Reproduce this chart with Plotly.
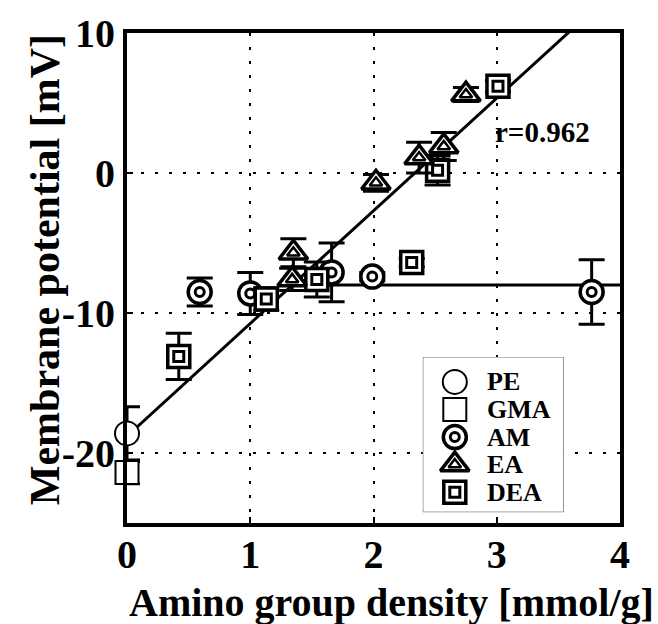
import plotly.graph_objects as go

# ---------------- data ----------------
pe_x = [0.0]
pe_y = [-18.6]
pe_err = [1.9]

gma_x = [0.0]
gma_y = [-21.4]
gma_err = [0.8]

am_x = [0.59, 1.0, 1.66, 1.99, 3.77]
am_y = [-8.5, -8.6, -7.1, -7.4, -8.5]
am_err = [1.0, 1.5, 2.1, 0.3, 2.3]

ea_x = [1.35, 1.34, 2.02, 2.37, 2.57, 2.75]
ea_y = [-5.7, -7.6, -0.7, 1.1, 1.9, 5.6]
ea_err = [1.0, 0.8, 0.6, 1.1, 1.0, 0.5]

dea_x = [0.42, 1.13, 1.54, 2.31, 2.52, 3.01]
dea_y = [-13.1, -9.0, -7.6, -6.4, 0.2, 6.2]
dea_err = [1.65, 0.8, 1.25, 0.3, 1.05, 0.4]

# fitted lines
fit_intercept = -18.8
fit_slope = 8.05
plateau_y = -8.0
x_max = 4.0

x_ticks = [0, 1, 2, 3, 4]
x_tick_labels = ["0", "1", "2", "3", "4"]
y_ticks = [-20, -10, 0, 10]
y_tick_labels = ["-20", "-10", "0", "10"]
r_label = "r=0.962"
legend_names = ["PE", "GMA", "AM", "EA", "DEA"]

FONT = "Liberation Serif"

fig = go.Figure()

# regression line (clipped by the axes)
fit_x = [0.0, x_max]
fit_y = [fit_intercept + fit_slope * v for v in fit_x]
fig.add_trace(go.Scatter(x=fit_x, y=fit_y, mode="lines",
                         line=dict(color="black", width=3), showlegend=False, hoverinfo="skip"))
# plateau line
x_break = (plateau_y - fit_intercept) / fit_slope
fig.add_trace(go.Scatter(x=[x_break, x_max], y=[plateau_y, plateau_y], mode="lines",
                         line=dict(color="black", width=3), showlegend=False, hoverinfo="skip"))


def err(arr):
    return dict(type="data", array=arr, visible=True, color="black", thickness=3, width=13)


def outer(x, y, e, symbol, size=24, lw=3.5):
    fig.add_trace(go.Scatter(x=x, y=y, mode="markers", error_y=err(e), cliponaxis=False,
                             marker=dict(symbol=symbol, size=size, color="white",
                                         line=dict(color="black", width=lw)),
                             showlegend=False))


def inner(x, y, symbol, size, lw=3):
    fig.add_trace(go.Scatter(x=x, y=y, mode="markers", cliponaxis=False,
                             marker=dict(symbol=symbol, size=size, color="white",
                                         line=dict(color="black", width=lw)),
                             showlegend=False))


# GMA / PE
outer(gma_x, gma_y, gma_err, "square", 23, 2)
outer(pe_x, pe_y, pe_err, "circle", 24, 2)
# AM
outer(am_x, am_y, am_err, "circle", 23)
inner(am_x, am_y, "circle", 9)
# DEA
outer(dea_x, dea_y, dea_err, "square", 22)
inner(dea_x, dea_y, "square", 10)
# EA
outer(ea_x, ea_y, ea_err, "triangle-up", 25)
inner(ea_x, ea_y, "triangle-up", 11, 2.5)

# ---------------- manual legend on its own small subplot ----------------
leg_styles = [
    ("circle", 24, 2, None),
    ("square", 23, 2, None),
    ("circle", 23, 3.5, ("circle", 9, 3)),
    ("triangle-up", 25, 3.5, ("triangle-up", 11, 2.5)),
    ("square", 22, 3.5, ("square", 10, 3)),
]
n = len(legend_names)
row_y = [0.839 - 0.1775 * i for i in range(n)]
mk_x = 0.227
fig.add_trace(go.Scatter(x=[0, 1, 1, 0, 0], y=[0, 0, 1, 1, 0], mode="lines", fill="toself",
                         fillcolor="white", line=dict(color="#444", width=1),
                         xaxis="x2", yaxis="y2", showlegend=False, hoverinfo="skip"))
for i, (sym, sz, lw, inn) in enumerate(leg_styles):
    fig.add_trace(go.Scatter(x=[mk_x], y=[row_y[i]], mode="markers", xaxis="x2", yaxis="y2",
                             marker=dict(symbol=sym, size=sz, color="white",
                                         line=dict(color="black", width=lw)),
                             showlegend=False, hoverinfo="skip"))
    if inn:
        fig.add_trace(go.Scatter(x=[mk_x], y=[row_y[i]], mode="markers", xaxis="x2", yaxis="y2",
                                 marker=dict(symbol=inn[0], size=inn[1], color="white",
                                             line=dict(color="black", width=inn[2])),
                                 showlegend=False, hoverinfo="skip"))
    fig.add_annotation(x=0.44, y=row_y[i], xref="x2", yref="y2", text="<b>%s</b>" % legend_names[i],
                       showarrow=False, xanchor="left", yanchor="middle",
                       font=dict(family=FONT, size=26, color="black"))

# r label
fig.add_annotation(x=3.37, y=2.9, xref="x", yref="y", text="<b>%s</b>" % r_label, showarrow=False,
                   xanchor="center", yanchor="middle",
                   font=dict(family=FONT, size=29, color="black"))

# axis titles
fig.add_annotation(x=0.5375, y=-0.162, xref="paper", yref="paper",
                   text="<b>Amino group density [mmol/g]</b>", showarrow=False,
                   xanchor="center", yanchor="middle",
                   font=dict(family=FONT, size=40, color="black"))
fig.add_annotation(x=0, y=0.516, xref="paper", yref="paper", xshift=-82,
                   text="<b>Membrane potential [mV]</b>", showarrow=False, textangle=-90,
                   xanchor="center", yanchor="middle",
                   font=dict(family=FONT, size=42, color="black"))

axis_common = dict(showline=True, linecolor="black", linewidth=4, mirror=True,
                   showgrid=True, gridcolor="black", gridwidth=2, griddash="3px,11px",
                   zeroline=False, ticks="inside", ticklen=6, tickwidth=2, tickcolor="black",
                   tickfont=dict(family=FONT, size=40, color="black"))

fig.update_layout(
    width=658, height=624,
    margin=dict(l=127, r=38, t=33, b=101),
    paper_bgcolor="white", plot_bgcolor="white",
    showlegend=False,
    xaxis=dict(range=[0, 4], tickvals=x_ticks, ticktext=["<b>%s</b>" % t for t in x_tick_labels],
               domain=[0, 1], ticklabelstandoff=-7, **axis_common),
    yaxis=dict(range=[-25, 10], tickvals=y_ticks, ticktext=["<b>%s</b>" % t for t in y_tick_labels],
               domain=[0, 1], **axis_common),
    xaxis2=dict(domain=[0.600, 0.886], range=[0, 1], anchor="y2", visible=False, fixedrange=True),
    yaxis2=dict(domain=[0.022, 0.339], range=[0, 1], anchor="x2", visible=False, fixedrange=True),
)

fig.write_html("out.html")
